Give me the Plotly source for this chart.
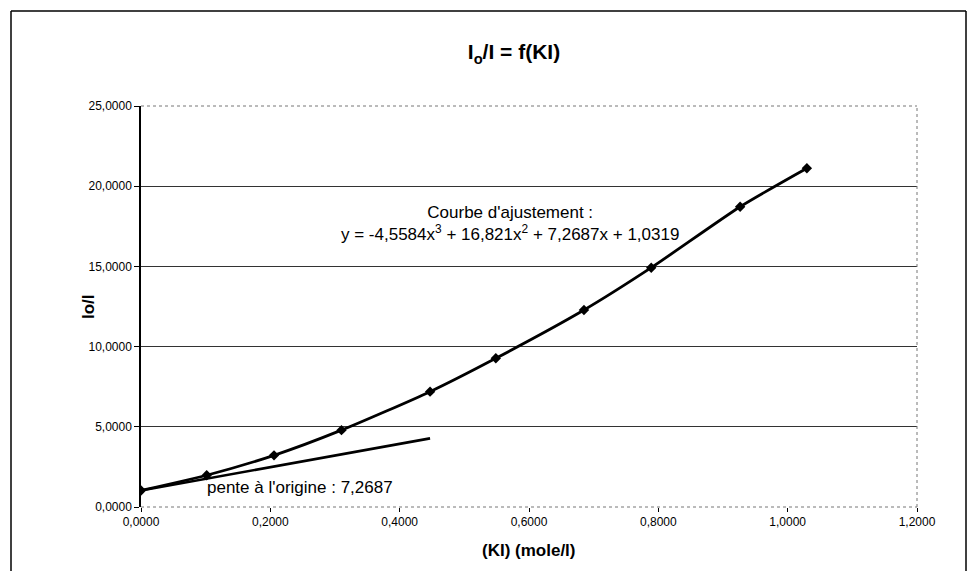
import plotly.graph_objects as go

# Data
ki = [0.0, 0.1016, 0.2057, 0.3100, 0.4470, 0.5487, 0.6850, 0.7890, 0.9265, 1.0297]
io_i = [1.03, 1.98, 3.22, 4.79, 7.19, 9.27, 12.28, 14.92, 18.72, 21.12]

tangent_x = [0.0, 0.4470]
tangent_y = [1.0319, 4.28]

x_ticks = [0.0, 0.2, 0.4, 0.6, 0.8, 1.0, 1.2]
x_tick_labels = ["0,0000", "0,2000", "0,4000", "0,6000", "0,8000", "1,0000", "1,2000"]
y_ticks = [0, 5, 10, 15, 20, 25]
y_tick_labels = ["0,0000", "5,0000", "10,0000", "15,0000", "20,0000", "25,0000"]

FONT = "Liberation Sans, Arial, sans-serif"

# page body has an 8px margin: figure coords = screen coords - 8
OFF = 8
W, H = 960, 563
L, T = 141 - OFF, 106 - OFF
R = W - (917 - OFF)
B = H - (507 - OFF)
pw, ph = W - L - R, H - T - B

def px(xs):
    return (xs - OFF - L) / pw

def py(ys):
    return (H - B - (ys - OFF)) / ph

fig = go.Figure()
fig.add_trace(go.Scatter(
    x=ki, y=io_i, mode="lines+markers",
    line=dict(color="black", width=2.8, shape="spline", smoothing=0.6),
    marker=dict(symbol="diamond", size=8, color="black"),
    showlegend=False, hoverinfo="skip"))
fig.add_trace(go.Scatter(
    x=tangent_x, y=tangent_y, mode="lines",
    line=dict(color="black", width=2.6),
    showlegend=False, hoverinfo="skip"))

shapes = [
    dict(type="line", xref="paper", yref="paper", x0=0, x1=1, y0=1, y1=1,
         line=dict(color="#777", width=1, dash="dot")),
    dict(type="line", xref="paper", yref="paper", x0=1, x1=1, y0=0, y1=1,
         line=dict(color="#777", width=1, dash="dot")),
    dict(type="line", xref="paper", yref="paper", x0=0, x1=1, y0=0, y1=0,
         line=dict(color="#777", width=1, dash="dot")),
    # outer frame
    dict(type="line", xref="paper", yref="paper", x0=px(11), x1=px(966), y0=py(11), y1=py(11),
         line=dict(color="black", width=1.5)),
    dict(type="line", xref="paper", yref="paper", x0=px(11), x1=px(11), y0=py(11), y1=py(571),
         line=dict(color="black", width=1.5)),
    dict(type="line", xref="paper", yref="paper", x0=px(966), x1=px(966), y0=py(11), y1=py(571),
         line=dict(color="black", width=1.5)),
]

fig.update_layout(
    width=W, height=H,
    margin=dict(l=L, r=R, t=T, b=B),
    paper_bgcolor="white", plot_bgcolor="white",
    font=dict(family=FONT, color="black", size=12),
    title=dict(text="<b>I<sub>o</sub>/I = f(KI)</b>", x=(514 - OFF) / W, xanchor="center",
               y=1 - (52 - OFF) / H, yanchor="middle", yref="container",
               font=dict(size=21, family=FONT)),
    xaxis=dict(range=[0, 1.2], tickvals=x_ticks, ticktext=x_tick_labels,
               showgrid=False, zeroline=False, showline=False,
               ticks="outside", ticklen=4, tickcolor="black",
               tickfont=dict(size=12)),
    yaxis=dict(range=[0, 25], tickvals=y_ticks, ticktext=y_tick_labels,
               showgrid=True, gridcolor="#333", gridwidth=1,
               zeroline=False, showline=True, linecolor="black", linewidth=1.5,
               ticks="outside", ticklen=5, tickcolor="black",
               tickfont=dict(size=12)),
    shapes=shapes,
    annotations=[
        dict(x=px(529), y=py(550), xref="paper", yref="paper", showarrow=False,
             text="<b>(KI) (mole/l)</b>", font=dict(size=17),
             xanchor="center", yanchor="middle"),
        dict(x=px(88), y=py(307), xref="paper", yref="paper", showarrow=False,
             text="<b>Io/I</b>", font=dict(size=17), textangle=-90,
             xanchor="center", yanchor="middle"),
        dict(x=px(510), y=py(223), xref="paper", yref="paper", showarrow=False,
             text="Courbe d'ajustement :<br>y = -4,5584x<sup>3</sup> + 16,821x<sup>2</sup> + 7,2687x + 1,0319",
             font=dict(size=17), align="center", xanchor="center", yanchor="middle"),
        dict(x=px(300), y=py(487), xref="paper", yref="paper", showarrow=False,
             text="pente à l'origine : 7,2687", font=dict(size=17),
             xanchor="center", yanchor="middle"),
    ],
)

fig.write_html("out.html")
